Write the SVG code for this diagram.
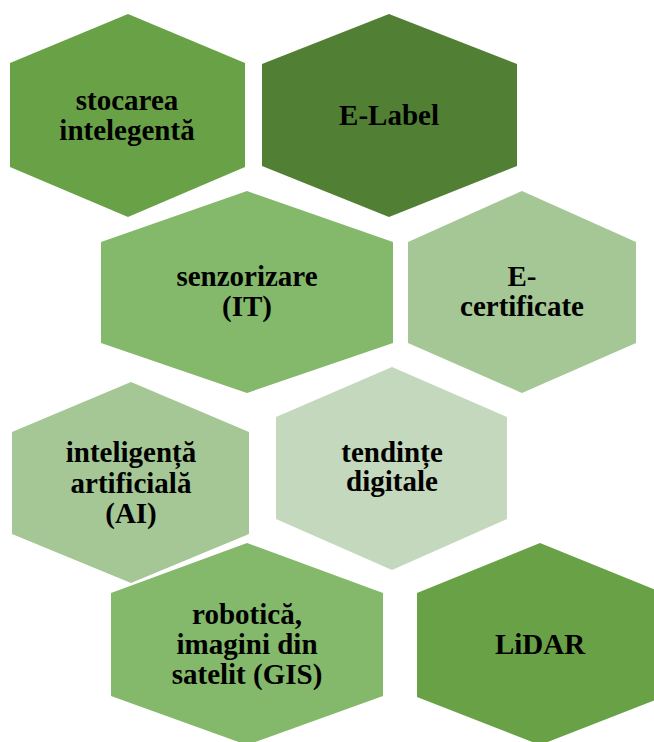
<svg xmlns="http://www.w3.org/2000/svg" width="654" height="742" viewBox="0 0 654 742">
<style>
text{font-weight:bold;font-size:29px;fill:#000;text-anchor:middle}
.c1{fill:#69A246}
.c2{fill:#517F33}
.c3{fill:#84B86A}
.c4{fill:#A4C795}
.c5{fill:#C3D8BC}
</style>
<rect width="654" height="742" fill="#fff"/>
<g font-family="Liberation Serif, serif">
<g id="n1"><polygon class="c1" points="128,14 245,63 245,167 128,217 10,167 10,63"/>
<text x="127" y="110">stocarea</text><text x="127" y="140">intelegentă</text></g>
<g id="n2"><polygon class="c2" points="389,14 517,64 517,166 389,217 262,166 262,64"/>
<text x="389" y="125">E-Label</text></g>
<g id="n3"><polygon class="c3" points="247,191 393,242 393,343 247,393 101,343 101,242"/>
<text x="247" y="286">senzorizare</text><text x="247" y="316">(IT)</text></g>
<g id="n4"><polygon class="c4" points="522,191 636,242 636,343 522,393 408,343 408,242"/>
<text x="522" y="286">E-</text><text x="522" y="316">certificate</text></g>
<g id="n5"><polygon class="c4" points="131,382 249,432 249,534 131,583 12,534 12,432"/>
<text x="131" y="462">inteligență</text><text x="131" y="492.5">artificială</text><text x="131" y="523">(AI)</text></g>
<g id="n6"><polygon class="c5" points="392,367 507,417 507,519 392,570 276,519 276,417"/>
<text x="392" y="461.5">tendințe</text><text x="392" y="491">digitale</text></g>
<g id="n7"><polygon class="c3" points="247,543 383,593 383,696 247,745 111,696 111,593"/>
<text x="247" y="624">robotică,</text><text x="247" y="653.5">imagini din</text><text x="247" y="683.5">satelit (GIS)</text></g>
<g id="n8"><polygon class="c1" points="540,543 663,593 663,697 540,745 417,697 417,593"/>
<text x="540" y="654">LiDAR</text></g>
</g>
<g id="connectors"></g>
</svg>
